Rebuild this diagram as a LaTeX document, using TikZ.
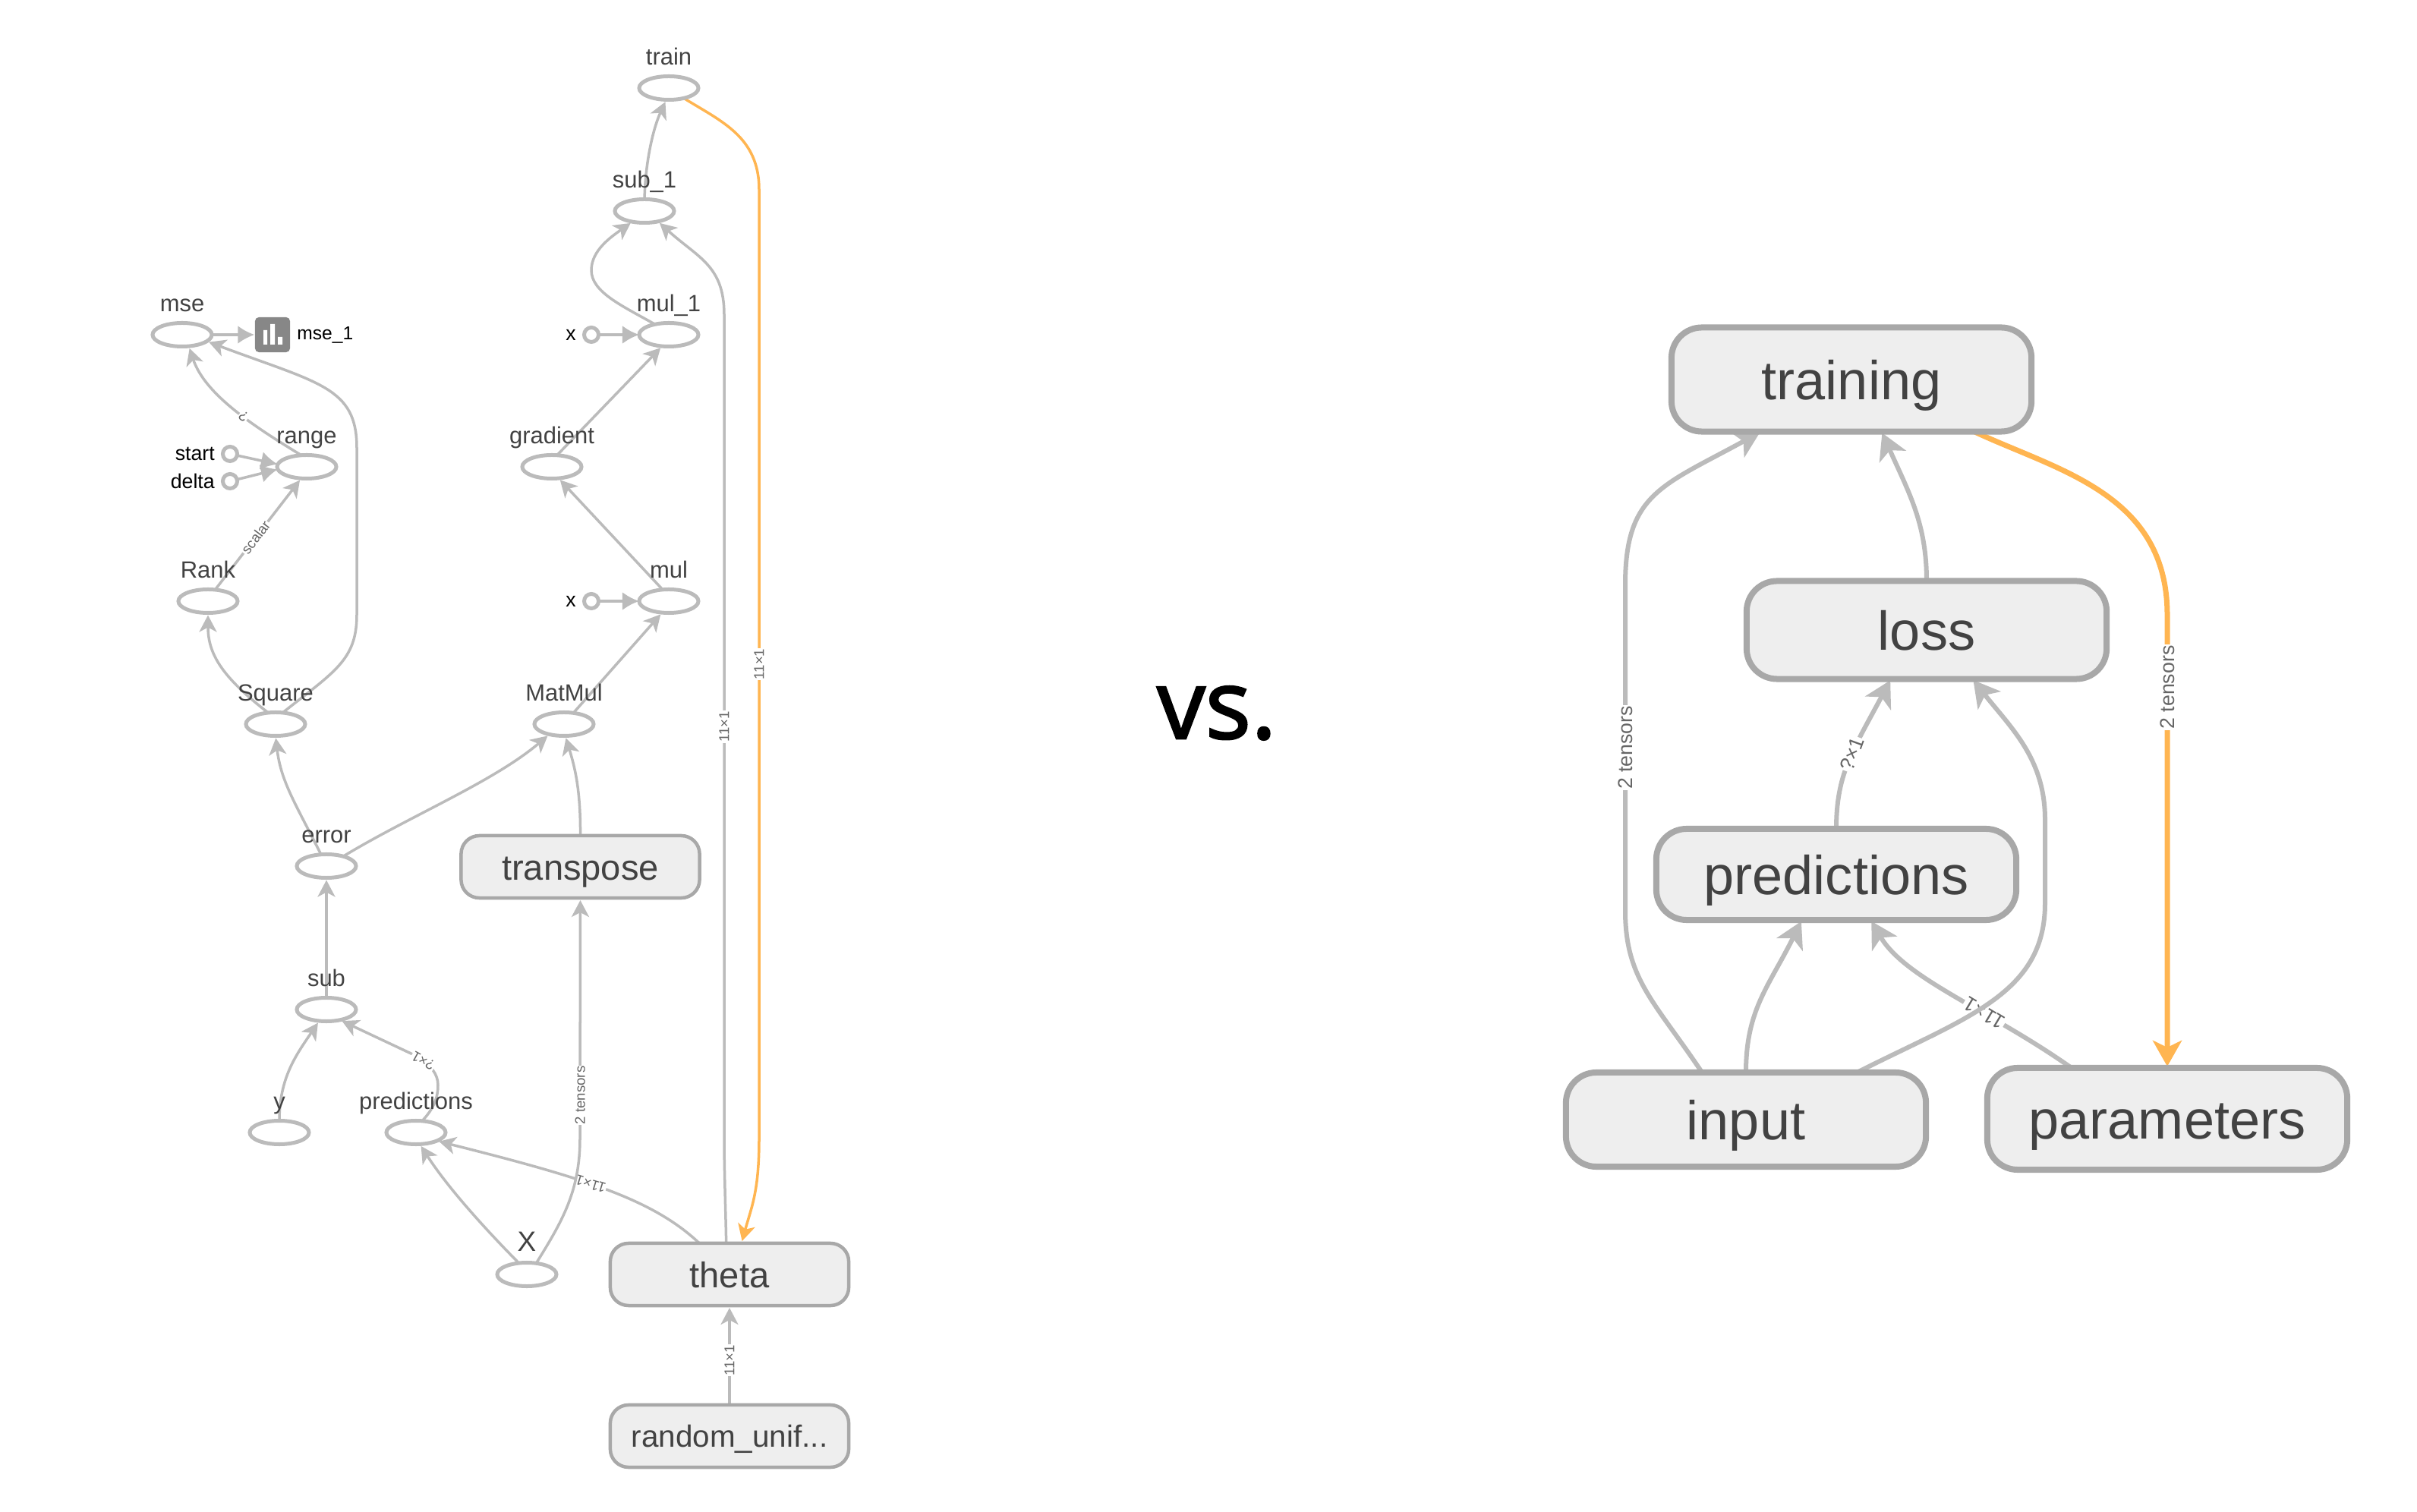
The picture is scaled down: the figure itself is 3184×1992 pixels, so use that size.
\documentclass[tikz,border=0pt]{standalone}
\usepackage{fontspec}
\setmainfont{Liberation Sans}
\newfontfamily\vsfont[FakeBold=2]{Open Sans}
\usetikzlibrary{arrows.meta,shapes.geometric,backgrounds}
\definecolor{edgegray}{HTML}{BBBBBB}
\definecolor{boxgray}{HTML}{A8A8A8}
\definecolor{boxfill}{HTML}{EEEEEE}
\definecolor{icongray}{HTML}{878787}
\definecolor{textgray}{HTML}{424242}
\definecolor{refgold}{HTML}{FFB551}
\tikzset{
    oplabel/.style={font=\fontsize{8.8}{10}\selectfont, text=textgray, inner sep=0pt, text depth=0pt, label distance=.14cm},
    opnode/.style={ellipse, draw=edgegray, line width=.05cm, minimum width=.78cm, minimum height=.31cm, inner sep=0pt, outer sep=0pt, label={[oplabel]above:#1}},
    constnode/.style={circle, draw=edgegray, line width=.05cm, minimum size=.19cm, inner sep=0pt, outer sep=0pt, label={[font=\fontsize{7.6}{9}\selectfont, inner sep=0pt, label distance=.1cm]left:#1}},
    smallbox/.style={rectangle, rounded corners=.24cm, draw=boxgray, fill=boxfill, line width=.045cm, minimum width=3.14cm, minimum height=.82cm, outer sep=0pt, text=textgray, font=\fontsize{13.4}{15}\selectfont, text height=.34cm, text depth=0pt},
    bigbox/.style={rectangle, rounded corners=.4cm, draw=boxgray, fill=boxfill, line width=.08cm, minimum width=4.74cm, outer sep=0pt, text=textgray, font=\fontsize{20.5}{24}\selectfont, text height=.52cm, text depth=0pt},
    smalledge/.style={draw=edgegray, line width=.035cm, shorten >=.03cm, -{Stealth[length=.22cm,width=.23cm,inset=.06cm]}},
    bigedge/.style={draw=edgegray, line width=.06cm, shorten >=.02cm, -{Stealth[length=.34cm,width=.38cm,inset=.09cm]}},
    refedge/.style={draw=edgegray, line width=.035cm, -{Latex[length=.22cm,width=.24cm]}},
    smalllabel/.style={font=\fontsize{5.3}{6}\selectfont, text=gray!80!black, fill=white, inner sep=.3pt},
    biglabel/.style={font=\fontsize{7.6}{9}\selectfont, text=gray!80!black, fill=white, inner sep=.3pt}
}
\begin{document}
\begin{tikzpicture}[x=.01cm, y=-.01cm]
    \useasboundingbox (0,0) rectangle (3184,1992);

    % Define nodes
    \node [opnode=train] (train) at (881,116) {};
    \node [opnode=sub\_1] (sub1) at (849,278) {};
    \node [opnode=mul\_1] (mul1) at (881,441) {};
    \node [opnode=gradient] (gradient) at (727,615) {};
    \node [opnode=mul] (mul) at (881,792) {};
    \node [opnode=MatMul] (matmul) at (743,954) {};
    \node [opnode=mse] (mse) at (240,441) {};
    \node [opnode=range] (range) at (404,615) {};
    \node [opnode=Rank] (rank) at (274,792) {};
    \node [opnode=Square] (square) at (363,954) {};
    \node [opnode=error] (error) at (430,1141) {};
    \node [opnode=sub] (sub) at (430,1330) {};
    \node [opnode=y] (y) at (368,1492) {};
    \node [opnode=predictions] (predictionsop) at (548,1492) {};
    \node [opnode={\fontsize{10.5}{12}\selectfont X}] (xop) at (694,1679) {};
    \node [constnode=start] (start) at (303,598) {};
    \node [constnode=delta] (delta) at (303,634) {};
    \node [constnode=x] (xa) at (779,441) {};
    \node [constnode=x] (xb) at (779,792) {};
    \node [rectangle, rounded corners=.05cm, fill=icongray, minimum size=.46cm, inner sep=0pt, label={[font=\fontsize{7}{9}\selectfont, inner sep=0pt, label distance=.08cm]right:mse\_1}] (summary) at (359,441) {};
    \fill [white] (347,435) rectangle (352,454) (356,427) rectangle (362,454) (366,444) rectangle (372,454);
    \node [smallbox] (transposebox) at (764.5,1142) {transpose};
    \node [smallbox] (theta) at (961,1679) {theta};
    \node [smallbox, font=\fontsize{11.5}{13}\selectfont, text height=.29cm] (random) at (961,1892) {random\_unif...};
    \node [bigbox, minimum height=1.37cm] (training) at (2439,500) {training};
    \node [bigbox, minimum height=1.29cm] (loss) at (2538,830) {loss};
    \node [bigbox, minimum height=1.2cm] (predictions) at (2419,1152) {predictions};
    \node [bigbox, minimum height=1.24cm] (input) at (2300,1475) {input};
    \node [bigbox, minimum height=1.34cm] (parameters) at (2855,1474) {parameters};
    \node [font=\vsfont\fontsize{36}{40}\selectfont, anchor=base] (versus) at (1603,973) {vs.};

    % Draw edges
    \begin{pgfonlayer}{background}
    \draw [smalledge] (sub1.north) .. controls (850,215) and (860,170) .. (train.258);
    \draw [smalledge, draw=refgold] (train.-34) .. controls (950,160) and (1000,180) .. (1000,250) -- node [smalllabel, rotate=90, pos=.5] {11×1} (1000,1500) .. controls (1000,1570) and (990,1590) .. (theta.69);
    \draw [smalledge] (theta.96) .. controls (956,1600) and (954,1540) .. (954,1500) -- node [smalllabel, rotate=90, pos=.5] {11×1} (954,415) .. controls (954,350) and (920,340) .. (sub1.-38);
    \draw [smalledge] (mul1.143) .. controls (820,403) and (779,385) .. (779,356) .. controls (779,330) and (805,312) .. (sub1.222);
    \draw [smalledge] (gradient.66) -- (mul1.240);
    \draw [smalledge] (mul.118) -- (gradient.-60);
    \draw [smalledge] (matmul.50) -- (mul.240);
    \draw [smalledge] (error.30) .. controls (540,1075) and (650,1030) .. (matmul.215);
    \draw [smalledge] (transposebox.north) .. controls (765,1040) and (757,1010) .. (matmul.276);
    \draw [smalledge] (theta.134) .. controls (860,1580) and (770,1552) .. node [smalllabel, rotate=163, pos=.56] {11×1} (predictionsop.-22);
    \draw [smalledge] (xop.50) .. controls (740,1610) and (764,1570) .. (764,1500) -- node [smalllabel, rotate=90, pos=.18] {2 tensors} (transposebox.south);
    \draw [smalledge] (xop.125) .. controls (640,1620) and (590,1565) .. (predictionsop.-72);
    \draw [smalledge] (predictionsop.62) .. controls (572,1460) and (577,1445) .. (577,1430) .. controls (577,1415) and (568,1404) .. node [smalllabel, rotate=151, pos=.85] {?×1} (550,1392) -- (sub.-38);
    \draw [smalledge] (y.north) .. controls (368,1420) and (390,1390) .. (sub.238);
    \draw [smalledge] (sub.north) -- (error.south);
    \draw [smalledge] (error.115) .. controls (390,1060) and (370,1030) .. (square.south);
    \draw [smalledge] (square.123) .. controls (290,890) and (274,860) .. (rank.south);
    \draw [smalledge] (square.58) .. controls (440,885) and (470,870) .. (470,810) -- (470,590) .. controls (470,510) and (420,505) .. (mse.-15);
    \draw [smalledge] (rank.58) -- node [smalllabel, rotate=53, pos=.47] {scalar} (range.245);
    \draw [smalledge] (range.115) .. controls (335,562) and (270,520) .. node [smalllabel, rotate=144, pos=.42] {?} (mse.-60);
    \draw [refedge] (start) -- (range.175);
    \draw [refedge] (delta) -- (range.185);
    \draw [refedge] (xa) -- (mul1.west);
    \draw [refedge] (xb) -- (mul.west);
    \draw [refedge] (mse.east) -- (summary.west);
    \draw [smalledge] (random.north) -- node [smalllabel, rotate=90, pos=.45] {11×1} (theta.south);

    \draw [bigedge] (input.133) .. controls (2180,1320) and (2141,1290) .. (2141,1200) -- node [biglabel, rotate=90, pos=.5] {2 tensors} (2141,770) .. controls (2141,650) and (2190,640) .. (training.210);
    \draw [bigedge] (input.north) .. controls (2300,1330) and (2330,1300) .. (predictions.233);
    \draw [bigedge] (parameters.152) .. controls (2620,1330) and (2510,1290) .. node [biglabel, rotate=149, pos=.36] {11×1} (predictions.-53);
    \draw [bigedge] (input.23) .. controls (2590,1340) and (2694,1310) .. (2694,1190) -- (2694,1080) .. controls (2694,1000) and (2650,960) .. (loss.-47);
    \draw [bigedge] (predictions.north) .. controls (2419,1020) and (2440,990) .. node [biglabel, rotate=70, pos=.55] {?×1} (loss.234);
    \draw [bigedge] (loss.north) .. controls (2538,690) and (2515,650) .. (training.-60);
    \draw [bigedge, draw=refgold, line width=.07cm] (training.-23) .. controls (2710,620) and (2855,650) .. (2855,810) -- node [biglabel, rotate=90, pos=.16] {2 tensors} (parameters.north);
    \end{pgfonlayer}
\end{tikzpicture}
\end{document}
